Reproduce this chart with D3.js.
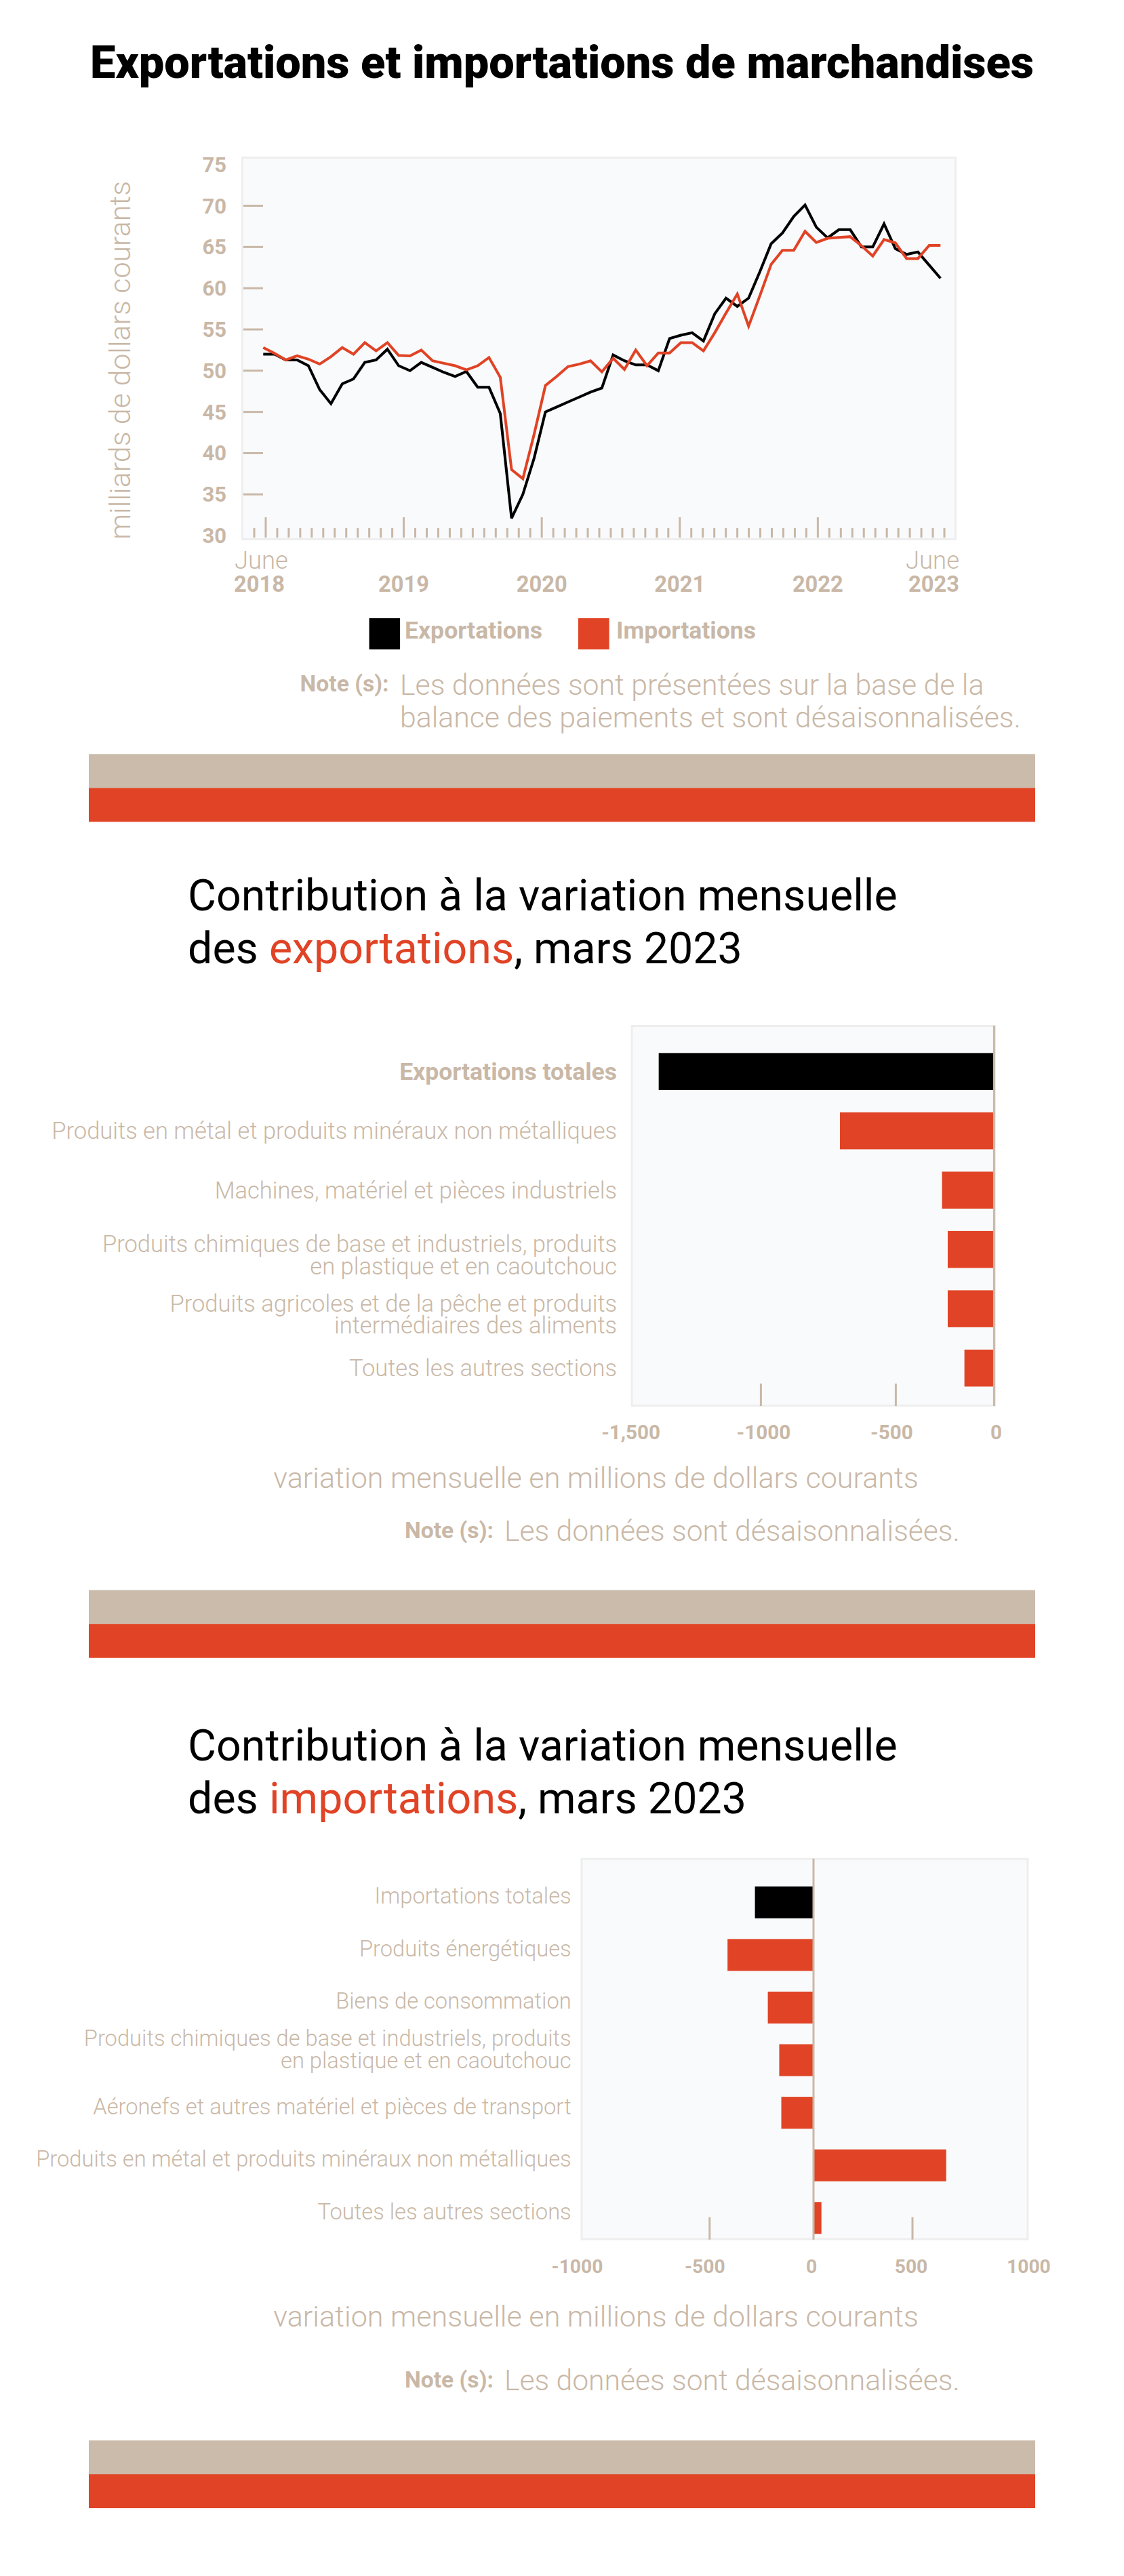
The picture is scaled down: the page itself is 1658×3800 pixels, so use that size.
<!DOCTYPE html>
<html><head><meta charset="utf-8">
<script src="https://cdn.jsdelivr.net/npm/d3@7"></script>
<style>body{margin:0;background:#fff;} svg{display:block;}</style>
</head><body>
<script>
// ===================== DATA =====================
const chartTitle = "Exportations et importations de marchandises";
const months = d3.timeMonth.range(new Date(2018, 5, 1), new Date(2023, 6, 1)); // June 2018 .. June 2023 (61)
const exportsVal = [
  52.0, 52.0, 51.3, 51.3, 50.6, 47.7, 46.0, 48.4, 49.0, 51.0,
  51.3, 52.6, 50.6, 50.0, 51.0, 50.4, 49.8, 49.3, 49.9, 48.0,
  48.0, 44.8, 32.1, 35.0, 39.4, 45.0, 45.6, 46.2, 46.8, 47.4,
  47.9, 51.9, 51.2, 50.7, 50.7, 50.0, 53.9, 54.3, 54.6, 53.6,
  56.9, 58.8, 57.8, 58.8, 62.0, 65.4, 66.7, 68.7, 70.1, 67.4,
  66.1, 67.1, 67.1, 65.0, 65.0, 67.8, 64.8, 64.1, 64.4, 62.8,
  61.2];
const importsVal = [
  52.8, 52.1, 51.3, 51.8, 51.4, 50.8, 51.7, 52.8, 52.0, 53.4,
  52.4, 53.4, 51.85, 51.8, 52.5, 51.2, 50.9, 50.6, 50.1, 50.6,
  51.6, 49.2, 38.0, 36.9, 42.3, 48.2, 49.3, 50.5, 50.8, 51.2,
  49.85, 51.5, 50.15, 52.5, 50.6, 52.15, 52.15, 53.4, 53.4, 52.4,
  54.6, 57.0, 59.3, 55.4, 59.1, 62.9, 64.6, 64.6, 66.9, 65.55,
  66.05, 66.15, 66.25, 65.15, 63.9, 65.9, 65.5, 63.6, 63.6, 65.2,
  65.2];
const yTickValues = [30, 35, 40, 45, 50, 55, 60, 65, 70, 75];
const yTitle = "milliards de dollars courants";
const yearLabels = ["2018", "2019", "2020", "2021", "2022", "2023"];
const legendNames = ["Exportations", "Importations"];
const note1Lines = ["Les données sont présentées sur la base de la", "balance des paiements et sont désaisonnalisées."];

const expTitle = ["Contribution à la variation mensuelle", "des ", "exportations", ", mars 2023"];
const expCategories = [
  "Exportations totales",
  "Produits en métal et produits minéraux non métalliques",
  "Machines, matériel et pièces industriels",
  "Produits chimiques de base et industriels, produits|en plastique et en caoutchouc",
  "Produits agricoles et de la pêche et produits|intermédiaires des aliments",
  "Toutes les autres sections"];
const expValues = [-1393, -707, -265, -236, -236, -151];
const expTickValues = [-1500, -1000, -500, 0];
const expTickLabels = ["-1,500", "-1000", "-500", "0"];

const impTitle = ["Contribution à la variation mensuelle", "des ", "importations", ", mars 2023"];
const impCategories = [
  "Importations totales",
  "Produits énergétiques",
  "Biens de consommation",
  "Produits chimiques de base et industriels, produits|en plastique et en caoutchouc",
  "Aéronefs et autres matériel et pièces de transport",
  "Produits en métal et produits minéraux non métalliques",
  "Toutes les autres sections"];
const impValues = [-282, -414, -220, -165, -155, 645, 40];
const impTickValues = [-1000, -500, 0, 500, 1000];
const impTickLabels = ["-1000", "-500", "0", "500", "1000"];

const axisTitle = "variation mensuelle en millions de dollars courants";
const noteLabel = "Note (s):";
const note2Text = "Les données sont désaisonnalisées.";

// ===================== STYLE =====================
const FONT = "Roboto, 'Liberation Sans', Arial, sans-serif";
const TAN = "#c9b8a7";
const RED = "#e04325";
const BAND_TAN = "#cbbbab";
const FRAME_FILL = "#f9fafb";
const FRAME_STROKE = "#eeeeee";

const W = 1658, H = 3800;
const svg = d3.select("body").append("svg").attr("width", W).attr("height", H)
  .attr("font-family", FONT);

function fs(str, weight, target) {
  const t = svg.append("text").attr("font-size", 100).attr("font-weight", weight).text(str);
  const w = t.node().getComputedTextLength();
  t.remove();
  return 100 * target / w;
}
function txt(g, str, x, y, size, weight, fill, anchor) {
  return g.append("text").attr("x", x).attr("y", y).attr("font-size", size)
    .attr("font-weight", weight).attr("fill", fill).attr("text-anchor", anchor || "start").text(str);
}
function frame(x0, y0, x1, y1) {
  svg.append("rect").attr("x", x0 + 1.5).attr("y", y0 + 1.5).attr("width", x1 - x0 - 3).attr("height", y1 - y0 - 3)
    .attr("fill", FRAME_FILL).attr("stroke", FRAME_STROKE).attr("stroke-width", 3);
}
function bands(y) {
  svg.append("rect").attr("x", 131).attr("y", y).attr("width", 1396).attr("height", 50).attr("fill", BAND_TAN);
  svg.append("rect").attr("x", 131).attr("y", y + 50).attr("width", 1396).attr("height", 50).attr("fill", RED);
}

// ===================== TITLE =====================
txt(svg, chartTitle, 829, 115, fs(chartTitle, 900, 1392), 900, "#000", "middle");

// ===================== LINE CHART =====================
frame(356, 231, 1411, 797);
const x = d3.scalePoint().domain(months).range([388.3, 1387.3]);
const y = d3.scaleLinear().domain([30, 75]).range([790.1, 242.7]);
const tickX = d3.scalePoint().domain(d3.range(61)).range([375, 1393]);

const lc = svg.append("g");
lc.selectAll(".ytick").data(yTickValues.filter(v => v > 30 && v < 75)).join("line")
  .attr("x1", 359).attr("x2", 388).attr("y1", d => y(d)).attr("y2", d => y(d))
  .attr("stroke", TAN).attr("stroke-width", 3);
lc.selectAll(".ylab").data(yTickValues).join("text")
  .attr("x", 334).attr("y", d => y(d) + 11).attr("text-anchor", "end")
  .attr("font-size", 31).attr("font-weight", 700).attr("fill", TAN).text(d => d);
lc.append("text").attr("transform", "rotate(-90)").attr("x", -531.5).attr("y", 192)
  .attr("text-anchor", "middle").attr("font-size", fs(yTitle, 300, 529)).attr("font-weight", 300)
  .attr("fill", TAN).text(yTitle);
lc.selectAll(".xtick").data(d3.range(61)).join("line")
  .attr("x1", d => tickX(d)).attr("x2", d => tickX(d))
  .attr("y1", d => ((d - 1) % 12 === 0) ? 763 : 779).attr("y2", 793)
  .attr("stroke", TAN).attr("stroke-width", 3);
const juneSize = fs("June", 300, 79), yearSize = fs("2018", 700, 75);
txt(lc, "June", 346, 839, juneSize, 300, TAN, "start");
txt(lc, yearLabels[0], 345, 873, yearSize, 700, TAN, "start");
yearLabels.slice(1, 5).forEach((lab, i) => {
  txt(lc, lab, tickX(13 + 12 * i), 873, yearSize, 700, TAN, "middle");
});
txt(lc, "June", 1415, 839, juneSize, 300, TAN, "end");
txt(lc, yearLabels[5], 1415, 873, yearSize, 700, TAN, "end");
const line = d3.line().x((d, i) => x(months[i])).y(d => y(d));
lc.append("path").attr("d", line(exportsVal)).attr("fill", "none").attr("stroke", "#000")
  .attr("stroke-width", 4).attr("stroke-linejoin", "miter").attr("stroke-miterlimit", 3);
lc.append("path").attr("d", line(importsVal)).attr("fill", "none").attr("stroke", RED)
  .attr("stroke-width", 4).attr("stroke-linejoin", "miter").attr("stroke-miterlimit", 3);

// legend
const legSize = fs(legendNames[0], 700, 203);
svg.append("rect").attr("x", 544.6).attr("y", 912).attr("width", 45.5).attr("height", 46).attr("fill", "#000");
txt(svg, legendNames[0], 597, 942, legSize, 700, TAN);
svg.append("rect").attr("x", 853).attr("y", 912).attr("width", 45.6).attr("height", 46).attr("fill", RED);
txt(svg, legendNames[1], 909, 942, legSize, 700, TAN);

// note 1
const n1Size = fs(note1Lines[1], 300, 916);
txt(svg, noteLabel, 442.6, 1020, fs(noteLabel, 700, 131), 700, TAN);
txt(svg, note1Lines[0], 590, 1025, n1Size, 300, TAN);
txt(svg, note1Lines[1], 590, 1073.3, n1Size, 300, TAN);

bands(1112.3);

// ===================== BAR CHARTS =====================
function sectionTitle(parts, yMid) {
  const s = fs(parts[0], 400, 1047);
  const gap = Math.ceil(s * 1.18) + 1;
  txt(svg, parts[0], 277, yMid - gap / 2, s, 400, "#000");
  const t = svg.append("text").attr("x", 277).attr("y", yMid + gap / 2).attr("font-size", s).attr("fill", "#000");
  t.append("tspan").text(parts[1]);
  t.append("tspan").attr("fill", RED).text(parts[2]);
  t.append("tspan").text(parts[3]);
}

function barChart(o) {
  frame(o.fx0, o.fy0, o.fx1, o.fy1);
  const xs = d3.scaleLinear().domain(o.ticks).range(o.tickPos);
  const ys = d3.scaleBand().domain(o.cats).range(o.bandRange).paddingInner(o.pad).paddingOuter(o.pad);
  const g = svg.append("g");
  g.selectAll("rect.bar").data(o.vals).join("rect")
    .attr("x", d => xs(Math.min(0, d))).attr("width", d => Math.abs(xs(d) - xs(0)))
    .attr("y", (d, i) => ys(o.cats[i])).attr("height", ys.bandwidth())
    .attr("fill", (d, i) => i === 0 ? "#000" : RED);
  g.append("line").attr("x1", xs(0)).attr("x2", xs(0)).attr("y1", o.fy0 + 1).attr("y2", o.fy1 - 1)
    .attr("stroke", TAN).attr("stroke-width", 3);
  g.selectAll("line.tk").data(o.ticks.filter(v => v !== 0 && xs(v) > o.fx0 + 5 && xs(v) < o.fx1 - 5)).join("line")
    .attr("x1", d => xs(d)).attr("x2", d => xs(d)).attr("y1", o.fy1 - 34).attr("y2", o.fy1 - 1)
    .attr("stroke", TAN).attr("stroke-width", 3);
  const ts = fs("-1000", 700, o.tickLabW);
  o.ticks.forEach((v, i) => txt(g, o.tickLabels[i], xs(v) + (o.labShift[i] || 0), o.tickLabY, ts, 700, TAN, "middle"));
  const ls = fs(o.longest, 300, o.longestW);
  o.cats.forEach((c, i) => {
    const cy = ys(c) + ys.bandwidth() / 2;
    const lines = c.split("|");
    const bold = i === 0 && o.boldFirst;
    if (lines.length === 1) {
      txt(g, lines[0], o.labX, cy + o.dy1, bold ? fs(lines[0], 700, o.firstW) : ls, bold ? 700 : 300, TAN, "end");
    } else {
      txt(g, lines[0], o.labX, cy + o.dy2[0], ls, 300, TAN, "end");
      txt(g, lines[1], o.labX, cy + o.dy2[1], ls, 300, TAN, "end");
    }
  });
  txt(g, axisTitle, 879, o.axisTitleY, fs(axisTitle, 300, 952), 300, TAN, "middle");
  txt(g, noteLabel, 597, o.noteY - 4, fs(noteLabel, 700, 131), 700, TAN);
  txt(g, note2Text, 744, o.noteY, fs(note2Text, 300, 672), 300, TAN);
}

// Exports
sectionTitle(expTitle, 1381.6);
barChart({
  fx0: 930.6, fy0: 1512, fx1: 1469, fy1: 2075,
  ticks: expTickValues, tickLabels: expTickLabels, tickPos: [930.6, 1122.4, 1321.4, 1466.4],
  labShift: [0, 4, -6, 3],
  cats: expCategories, vals: expValues, bandRange: [1520.4, 2078.4], pad: 0.377,
  tickLabW: 79.6, tickLabY: 2123,
  longest: expCategories[1], longestW: 834, labX: 910, boldFirst: true, firstW: 321,
  dy1: 12, dy2: [4, 36.5],
  axisTitleY: 2195, noteY: 2273
});
bands(2345.7);

// Imports
sectionTitle(impTitle, 2635.5);
barChart({
  fx0: 856.5, fy0: 2740.7, fx1: 1517.4, fy1: 3304.7,
  ticks: impTickValues, tickLabels: impTickLabels, tickPos: [856.5, 1046.8, 1200, 1346, 1517.4],
  labShift: [-5, -7, -3, -2, 0],
  cats: impCategories, vals: impValues, bandRange: [2752.2, 3325.9], pad: 0.394,
  tickLabW: 76, tickLabY: 3353,
  longest: impCategories[5], longestW: 790, labX: 842.7, boldFirst: false,
  dy1: 2, dy2: [-21, 12],
  axisTitleY: 3432, noteY: 3526
});
bands(3600);
</script>
</body></html>
